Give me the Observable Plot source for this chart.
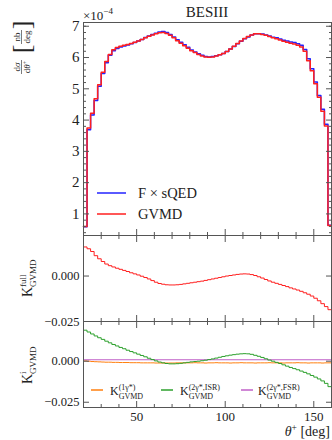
<!DOCTYPE html>
<html><head><meta charset="utf-8">
<script src="https://cdn.jsdelivr.net/npm/d3@7"></script>
<script src="https://cdn.jsdelivr.net/npm/@observablehq/plot@0.6"></script>
<style>
body{margin:0;background:#fff;}
#chart{position:relative;width:332px;height:440px;font-family:"Liberation Serif",serif;color:#222;overflow:hidden;}
</style></head><body><div id="chart"></div><script>
// ---- data ----
const theta = [20,22,24,26,28,30,32,34,36,38,40,42,44,46,48,50,52,54,56,58,60,62,64,66,68,70,72,74,76,78,80,82,84,86,88,90,92,94,96,98,100,102,104,106,108,110,112,114,116,118,120,122,124,126,128,130,132,134,136,138,140,142,144,146,148,150,152,154,156,158];
const thetaEnd = 160;
const sigmaGVMD = [0.60,3.75,4.22,4.68,5.13,5.53,5.87,6.10,6.25,6.32,6.36,6.39,6.42,6.45,6.49,6.53,6.58,6.63,6.68,6.72,6.76,6.79,6.80,6.77,6.71,6.63,6.54,6.46,6.38,6.30,6.22,6.16,6.10,6.05,6.02,6.01,6.02,6.05,6.09,6.13,6.19,6.27,6.36,6.45,6.53,6.61,6.67,6.72,6.76,6.76,6.74,6.71,6.67,6.63,6.60,6.56,6.52,6.49,6.46,6.43,6.39,6.34,6.20,5.90,5.58,5.16,4.73,4.28,3.81,0.63];
const sigmaFsQED = [0.59,3.69,4.16,4.63,5.08,5.49,5.83,6.07,6.22,6.29,6.34,6.37,6.40,6.44,6.48,6.53,6.58,6.64,6.69,6.74,6.78,6.82,6.83,6.80,6.74,6.66,6.57,6.49,6.41,6.33,6.24,6.18,6.12,6.07,6.03,6.02,6.03,6.06,6.09,6.13,6.19,6.27,6.35,6.44,6.52,6.60,6.66,6.72,6.76,6.76,6.75,6.72,6.69,6.65,6.63,6.59,6.55,6.53,6.50,6.48,6.44,6.39,6.26,5.96,5.64,5.22,4.79,4.35,3.87,0.64];
const kFull = [0.0160,0.0150,0.0135,0.0112,0.0095,0.0080,0.0066,0.0057,0.0050,0.0043,0.0037,0.0031,0.0025,0.0018,0.0012,0.0006,-0.0001,-0.0008,-0.0016,-0.0025,-0.0034,-0.0041,-0.0045,-0.0048,-0.0049,-0.0049,-0.0048,-0.0046,-0.0043,-0.0040,-0.0037,-0.0034,-0.0031,-0.0028,-0.0024,-0.0020,-0.0016,-0.0012,-0.0008,-0.0004,0.0000,0.0003,0.0006,0.0009,0.0011,0.0012,0.0011,0.0008,0.0003,-0.0004,-0.0011,-0.0019,-0.0027,-0.0034,-0.0040,-0.0046,-0.0052,-0.0058,-0.0065,-0.0071,-0.0077,-0.0084,-0.0092,-0.0100,-0.0110,-0.0122,-0.0136,-0.0152,-0.0168,-0.0185];
const kOneGamma = [0.0002,0.0000,-0.0002,-0.0003,-0.0004,-0.0005,-0.0006,-0.0006,-0.0007,-0.0007,-0.0008,-0.0008,-0.0008,-0.0009,-0.0009,-0.0009,-0.0010,-0.0010,-0.0010,-0.0010,-0.0011,-0.0011,-0.0011,-0.0011,-0.0011,-0.0011,-0.0010,-0.0010,-0.0010,-0.0010,-0.0010,-0.0009,-0.0010,-0.0010,-0.0011,-0.0010,-0.0010,-0.0009,-0.0010,-0.0010,-0.0010,-0.0011,-0.0010,-0.0010,-0.0009,-0.0010,-0.0010,-0.0010,-0.0011,-0.0010,-0.0010,-0.0010,-0.0009,-0.0010,-0.0010,-0.0010,-0.0011,-0.0010,-0.0010,-0.0010,-0.0009,-0.0010,-0.0010,-0.0011,-0.0010,-0.0010,-0.0010,-0.0011,-0.0010,-0.0010];
const kISR = [0.0189,0.0178,0.0166,0.0154,0.0143,0.0133,0.0122,0.0112,0.0102,0.0093,0.0084,0.0076,0.0067,0.0059,0.0051,0.0043,0.0035,0.0027,0.0018,0.0010,0.0002,-0.0005,-0.0010,-0.0014,-0.0016,-0.0016,-0.0015,-0.0013,-0.0010,-0.0007,-0.0004,-0.0002,0.0000,0.0003,0.0006,0.0010,0.0014,0.0019,0.0024,0.0029,0.0033,0.0037,0.0040,0.0043,0.0045,0.0046,0.0045,0.0042,0.0036,0.0030,0.0023,0.0015,0.0007,0.0000,-0.0007,-0.0014,-0.0022,-0.0030,-0.0038,-0.0045,-0.0052,-0.0060,-0.0068,-0.0077,-0.0087,-0.0097,-0.0108,-0.0120,-0.0135,-0.0155];
const kFSR = [0.0009,0.0009,0.0009,0.0009,0.0009,0.0009,0.0009,0.0009,0.0009,0.0009,0.0009,0.0009,0.0009,0.0009,0.0009,0.0009,0.0009,0.0009,0.0009,0.0009,0.0009,0.0009,0.0009,0.0009,0.0009,0.0009,0.0009,0.0009,0.0009,0.0009,0.0009,0.0009,0.0009,0.0009,0.0009,0.0009,0.0009,0.0009,0.0009,0.0009,0.0009,0.0009,0.0009,0.0009,0.0009,0.0009,0.0009,0.0009,0.0009,0.0009,0.0009,0.0009,0.0009,0.0009,0.0009,0.0009,0.0009,0.0009,0.0009,0.0009,0.0009,0.0009,0.0009,0.0009,0.0009,0.0009,0.0009,0.0009,0.0009,0.0009];

const xTicks = [50, 100, 150];
const xMinorTicks = [30, 40, 60, 70, 80, 90, 110, 120, 130, 140];
const yTicksTop = [1, 2, 3, 4, 5, 6, 7];
const yMinorTop = [0.4,0.6,0.8,1.2,1.4,1.6,1.8,2.2,2.4,2.6,2.8,3.2,3.4,3.6,3.8,4.2,4.4,4.6,4.8,5.2,5.4,5.6,5.8,6.2,6.4,6.6,6.8,7.0];
const kTicks = [-0.025, 0];
const topLegend = ["F × sQED", "GVMD"];
const bottomLegend = ["(1γ*)", "(2γ*,ISR)", "(2γ*,FSR)"];

const FONT = '"Liberation Serif", "DejaVu Serif", serif';
const FRAME = "#555";
const C = {blue: "#2323ff", red: "#ff1f1f", orange: "#ff7f0e", green: "#2ca02c", purple: "#c060c8"};

function stepRows(values) {
  const rows = theta.map((t, i) => ({x: t, y: values[i]}));
  rows.push({x: thetaEnd, y: values[values.length - 1]});
  return rows;
}

const common = {
  width: 332, marginLeft: 83, marginRight: 1,
  x: {domain: [20, 160]},
  style: {fontFamily: FONT, fontSize: "12px", color: "#222", background: "transparent", overflow: "visible"}
};
const blank = () => "";
function xTickMarks(anchor) {
  return [
    Plot.axisX(xTicks, {anchor, tickSize: -6, tickFormat: blank, label: null, stroke: FRAME}),
    Plot.axisX(xMinorTicks, {anchor, tickSize: -3, tickFormat: blank, label: null, stroke: FRAME})
  ];
}

// Panel 1
const p1 = Plot.plot({
  ...common, height: 235, marginTop: 22, marginBottom: 0,
  y: {domain: [0.31, 7.12]},
  marks: [
    Plot.line(stepRows(sigmaFsQED), {x: "x", y: "y", curve: "step-after", stroke: C.blue, strokeWidth: 1.5}),
    Plot.line(stepRows(sigmaGVMD), {x: "x", y: "y", curve: "step-after", stroke: C.red, strokeWidth: 1.5}),
    Plot.frame({stroke: FRAME}),
    Plot.axisY(yTicksTop, {anchor: "left", tickSize: -6, tickFormat: blank, label: null, stroke: FRAME}),
    Plot.axisY(yMinorTop, {anchor: "left", tickSize: -3, tickFormat: blank, label: null, stroke: FRAME}),
    Plot.axisY(yTicksTop, {anchor: "right", tickSize: -6, tickFormat: blank, label: null, stroke: FRAME}),
    Plot.axisY(yMinorTop, {anchor: "right", tickSize: -3, tickFormat: blank, label: null, stroke: FRAME}),
    Plot.axisY(yTicksTop, {anchor: "left", tickSize: 0, tickPadding: 4, fontSize: 15, label: null}),
    ...xTickMarks("bottom")
  ]
});

const kFmt = d3.format(".3f");
// Panel 2
const p2 = Plot.plot({
  ...common, height: 86, marginTop: 0, marginBottom: 0,
  y: {domain: [-0.025, 0.0223]},
  marks: [
    Plot.line(stepRows(kFull), {x: "x", y: "y", curve: "step-after", stroke: C.red, strokeWidth: 1}),
    Plot.frame({stroke: FRAME}),
    Plot.axisY([0], {anchor: "left", tickSize: -6, tickFormat: blank, label: null, stroke: FRAME}),
    Plot.axisY([0], {anchor: "right", tickSize: -6, tickFormat: blank, label: null, stroke: FRAME}),
    Plot.axisY(kTicks, {anchor: "left", tickSize: 0, tickPadding: 4, fontSize: 12.5, tickFormat: kFmt, label: null}),
    ...xTickMarks("bottom"), ...xTickMarks("top")
  ]
});

// Panel 3
const p3 = Plot.plot({
  ...common, height: 119, marginTop: 0, marginBottom: 33,
  y: {domain: [-0.0282, 0.0242]},
  marks: [
    Plot.line(stepRows(kOneGamma), {x: "x", y: "y", curve: "step-after", stroke: C.orange, strokeWidth: 1}),
    Plot.line(stepRows(kFSR), {x: "x", y: "y", curve: "step-after", stroke: C.purple, strokeWidth: 1.2}),
    Plot.line(stepRows(kISR), {x: "x", y: "y", curve: "step-after", stroke: C.green, strokeWidth: 1}),
    Plot.frame({stroke: FRAME}),
    Plot.axisY(kTicks, {anchor: "left", tickSize: -6, tickFormat: blank, label: null, stroke: FRAME}),
    Plot.axisY(kTicks, {anchor: "right", tickSize: -6, tickFormat: blank, label: null, stroke: FRAME}),
    Plot.axisY(kTicks, {anchor: "left", tickSize: 0, tickPadding: 4, fontSize: 12.5, tickFormat: kFmt, label: null}),
    ...xTickMarks("bottom"), ...xTickMarks("top"),
    Plot.axisX(xTicks, {anchor: "bottom", tickSize: 0, tickPadding: 4, fontSize: 13, label: null})
  ]
});

const chart = document.getElementById("chart");
[[p1, 0], [p2, 235], [p3, 321]].forEach(([el, top]) => {
  el.style.position = "absolute"; el.style.left = "0px"; el.style.top = top + "px";
  chart.appendChild(el);
});

// ---- text overlay: titles, axis labels, legends ----
const ov = d3.select(chart).append("svg")
  .attr("width", 332).attr("height", 440)
  .style("position", "absolute").style("left", 0).style("top", 0)
  .style("font-family", FONT).attr("fill", "#222");

ov.append("text").attr("x", 207).attr("y", 17).attr("text-anchor", "middle").attr("font-size", 15).text("BESIII");
const sci = ov.append("text").attr("x", 83).attr("y", 20).attr("font-size", 13);
sci.append("tspan").text("×10");
sci.append("tspan").attr("font-size", 9).attr("dy", -6).text("−4");

// y label panel 1: dσ/dθ+ [nb/deg]
function fraction(g, num, den, cxl, halfW) {
  const n = g.append("text").attr("x", cxl).attr("y", -2).attr("text-anchor", "middle").attr("font-size", 9);
  num(n);
  const d = g.append("text").attr("x", cxl).attr("y", 8.5).attr("text-anchor", "middle").attr("font-size", 9);
  den(d);
  g.append("line").attr("x1", cxl - halfW).attr("x2", cxl + halfW).attr("y1", 0).attr("y2", 0).attr("stroke", "#222").attr("stroke-width", 0.6);
}
const yl = ov.append("g").attr("transform", "translate(21.5,52) rotate(-90)");
fraction(yl, t => { t.append("tspan").text("d"); t.append("tspan").attr("font-style", "italic").text("σ"); },
  t => { t.append("tspan").text("d"); t.append("tspan").attr("font-style", "italic").text("θ"); t.append("tspan").attr("font-size", 6).attr("dy", -3).text("+"); },
  -15, 7);
yl.append("text").attr("x", 3).attr("y", 8).attr("text-anchor", "middle").attr("font-size", 26).text("[");
fraction(yl, t => t.text("nb"), t => t.text("deg"), 15, 7);
yl.append("text").attr("x", 27).attr("y", 8).attr("text-anchor", "middle").attr("font-size", 26).text("]");

function kText(parent, x, y, sup, fk, fs, rot) {
  const g = parent.append("g").attr("transform", `translate(${x},${y})` + (rot ? " rotate(-90)" : ""));
  g.append("text").attr("x", 0).attr("y", 0).attr("font-size", fk).text("K");
  const w = fk * 0.72;
  g.append("text").attr("x", w).attr("y", -fk * 0.42).attr("font-size", fs).text(sup);
  g.append("text").attr("x", w).attr("y", fk * 0.3).attr("font-size", fs).text("GVMD");
}
kText(ov, 32, 297, "full", 14, 9, true);
kText(ov, 32, 384, "i", 14, 9, true);

// top legend
const legTop = [[C.blue, 193], [C.red, 214]];
topLegend.forEach((lab, i) => {
  const [col, y] = legTop[i];
  ov.append("line").attr("x1", 97).attr("x2", 126).attr("y1", y).attr("y2", y).attr("stroke", col).attr("stroke-width", 1.5);
  ov.append("text").attr("x", 138).attr("y", y).attr("dy", "0.35em").attr("font-size", 14.5).text(lab);
});

// bottom legend
const legBot = [[C.orange, 91, 110], [C.green, 161, 180], [C.purple, 241, 258]];
bottomLegend.forEach((sup, i) => {
  const [col, x0, tx] = legBot[i];
  ov.append("line").attr("x1", x0).attr("x2", x0 + 12).attr("y1", 390).attr("y2", 390).attr("stroke", col).attr("stroke-width", 1.5);
  kText(ov, tx, 395, sup, 12, 8, false);
});

// x label
const xl = ov.append("text").attr("x", 330).attr("y", 436).attr("text-anchor", "end").attr("font-size", 14);
xl.append("tspan").attr("font-style", "italic").text("θ");
xl.append("tspan").attr("font-size", 9.5).attr("dy", -5).text("+");
xl.append("tspan").attr("dy", 5).text(" [deg]");
</script></body></html>
